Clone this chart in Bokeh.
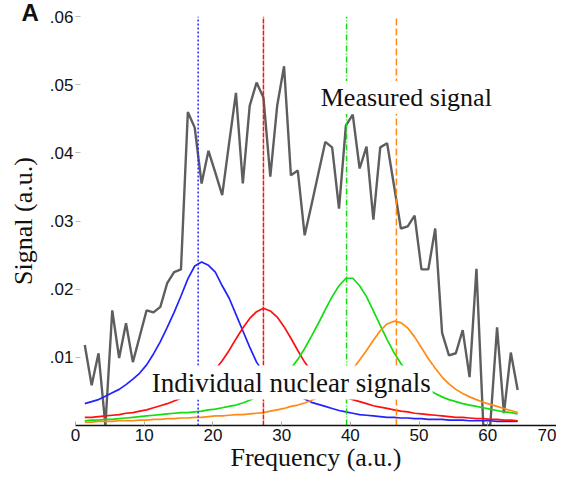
from bokeh.plotting import figure
from bokeh.models import FixedTicker, Label, Range1d
from bokeh.embed import file_html
from bokeh.resources import INLINE

# frequency sampling grid (a.u.)
freq = [round(1.35 + i, 2) for i in range(64)]

measured = [0.0118, 0.0059, 0.0106, 0.0000, 0.0169, 0.0099, 0.0150, 0.0093,
            0.0131, 0.0169, 0.0166, 0.0174, 0.0209, 0.0225, 0.0229, 0.0460,
            0.0437, 0.0355, 0.0403, 0.0371, 0.0338, 0.0414, 0.0488, 0.0355,
            0.0469, 0.0503, 0.0481, 0.0365, 0.0469, 0.0527, 0.0367, 0.0374,
            0.0279, 0.0324, 0.0370, 0.0416, 0.0408, 0.0318, 0.0440, 0.0456,
            0.0377, 0.0409, 0.0302, 0.0408, 0.0414, 0.0352, 0.0289, 0.0292,
            0.0308, 0.0229, 0.0229, 0.0289, 0.0136, 0.0103, 0.0106, 0.0140,
            0.0071, 0.0230, 0.0000, 0.0000, 0.0144, 0.0018, 0.0107, 0.0052]

blue_signal = [0.0032, 0.0035, 0.0038, 0.0043, 0.0048, 0.0053, 0.0060, 0.0068,
               0.0077, 0.0089, 0.0105, 0.0123, 0.0144, 0.0166, 0.0190, 0.0215,
               0.0234, 0.0240, 0.0235, 0.0225, 0.0205, 0.0187, 0.0163, 0.0139,
               0.0115, 0.0093, 0.0078, 0.0066, 0.0058, 0.0052, 0.0048, 0.0044,
               0.0039, 0.0034, 0.0031, 0.0028, 0.0025, 0.0022, 0.0020, 0.0018,
               0.0016, 0.0015, 0.0014, 0.0013, 0.0012, 0.0012, 0.0011, 0.0011,
               0.0010, 0.0010, 0.0009, 0.0009, 0.0009, 0.0008, 0.0008, 0.0008,
               0.0007, 0.0007, 0.0007, 0.0007, 0.0006, 0.0006, 0.0006, 0.0006]

red_signal = [0.0012, 0.0012, 0.0013, 0.0014, 0.0015, 0.0016, 0.0018, 0.0019,
              0.0021, 0.0023, 0.0026, 0.0029, 0.0032, 0.0036, 0.0040, 0.0045,
              0.0052, 0.0060, 0.0070, 0.0082, 0.0095, 0.0110, 0.0127, 0.0143,
              0.0157, 0.0167, 0.0172, 0.0168, 0.0159, 0.0145, 0.0128, 0.0110,
              0.0093, 0.0079, 0.0067, 0.0058, 0.0051, 0.0045, 0.0041, 0.0038,
              0.0035, 0.0032, 0.0029, 0.0027, 0.0025, 0.0023, 0.0021, 0.0020,
              0.0018, 0.0017, 0.0016, 0.0015, 0.0014, 0.0013, 0.0012, 0.0012,
              0.0011, 0.0010, 0.0010, 0.0009, 0.0009, 0.0008, 0.0008, 0.0007]

green_signal = [0.0007, 0.0008, 0.0008, 0.0009, 0.0009, 0.0010, 0.0011, 0.0012,
                0.0013, 0.0014, 0.0015, 0.0016, 0.0017, 0.0018, 0.0019, 0.0019,
                0.0020, 0.0021, 0.0023, 0.0024, 0.0026, 0.0028, 0.0030, 0.0033,
                0.0037, 0.0042, 0.0048, 0.0055, 0.0063, 0.0073, 0.0084, 0.0097,
                0.0113, 0.0131, 0.0150, 0.0170, 0.0189, 0.0205, 0.0216, 0.0216,
                0.0205, 0.0189, 0.0168, 0.0147, 0.0126, 0.0107, 0.0091, 0.0078,
                0.0068, 0.0060, 0.0053, 0.0047, 0.0042, 0.0038, 0.0035, 0.0032,
                0.0030, 0.0028, 0.0026, 0.0024, 0.0022, 0.0020, 0.0019, 0.0017]

orange_signal = [0.0005, 0.0005, 0.0006, 0.0006, 0.0006, 0.0007, 0.0007, 0.0007,
                 0.0008, 0.0008, 0.0009, 0.0009, 0.0010, 0.0010, 0.0011, 0.0011,
                 0.0012, 0.0012, 0.0013, 0.0014, 0.0014, 0.0015, 0.0016, 0.0016,
                 0.0017, 0.0018, 0.0019, 0.0021, 0.0023, 0.0025, 0.0028, 0.0030,
                 0.0033, 0.0037, 0.0041, 0.0046, 0.0053, 0.0061, 0.0071, 0.0083,
                 0.0096, 0.0110, 0.0125, 0.0139, 0.0149, 0.0153, 0.0151, 0.0143,
                 0.0130, 0.0114, 0.0098, 0.0084, 0.0071, 0.0061, 0.0053, 0.0047,
                 0.0042, 0.0038, 0.0034, 0.0031, 0.0028, 0.0025, 0.0022, 0.0019]

peak_centers = [17.85, 27.35, 39.45, 46.7]
peak_colors = ["#2222ff", "#ff1010", "#11dd11", "#ff8a14"]
peak_dashes = ["2 2", "5 1", "6 2 1 2", "7 3"]

x_ticks = [0, 10, 20, 30, 40, 50, 60, 70]
y_ticks = [0.01, 0.02, 0.03, 0.04, 0.05, 0.06]
y_tick_labels = [".01", ".02", ".03", ".04", ".05", ".06"]

p = figure(width=556, height=474, x_range=Range1d(0, 70), y_range=Range1d(0, 0.06),
           output_backend="svg", toolbar_location=None,
           min_border_left=75, min_border_right=0, min_border_top=16, min_border_bottom=0)
p.outline_line_color = None
p.xgrid.grid_line_color = None
p.ygrid.grid_line_color = None
p.background_fill_color = "white"
p.border_fill_color = "white"

# panel letter as the title
p.title.text = "A"
p.title.align = "left"
p.title.vertical_align = "bottom"
p.title.offset = -54
p.title.standoff = -19
p.title.text_font = "Liberation Sans"
p.title.text_font_style = "bold"
p.title.text_font_size = "24px"
p.title.text_color = "#111111"

# measured signal
p.line(freq, measured, line_color="#5e5e5e", line_width=2.4)

# individual nuclear signals
for sig, col in zip([blue_signal, red_signal, green_signal, orange_signal], peak_colors):
    p.line(freq, sig, line_color=col, line_width=1.7)

# peak position markers
for c, col, dash in zip(peak_centers, peak_colors, peak_dashes):
    p.segment(x0=[c], y0=[0], x1=[c], y1=[0.06], line_color=col, line_width=1.5, line_dash=dash)

# axes
xa = p.xaxis[0]
xa.ticker = FixedTicker(ticks=x_ticks)
xa.axis_label = "Frequency (a.u.)"
xa.axis_label_text_font = "Liberation Serif"
xa.axis_label_text_font_size = "26px"
xa.axis_label_text_font_style = "normal"
xa.axis_label_text_color = "#111111"
xa.axis_label_standoff = -1
xa.major_label_standoff = 3
xa.major_label_text_font = "Liberation Sans"
xa.major_label_text_font_size = "17px"
xa.major_label_text_color = "#111111"
xa.major_tick_in = 4
xa.major_tick_out = 0
xa.major_tick_line_color = "#aaaaaa"
xa.minor_tick_line_color = None
xa.axis_line_color = "#111111"
xa.axis_line_width = 1.6

ya = p.yaxis[0]
ya.ticker = FixedTicker(ticks=y_ticks)
ya.major_label_overrides = {t: s for t, s in zip(y_ticks, y_tick_labels)}
ya.axis_label = "Signal (a.u.)"
ya.axis_label_text_font = "Liberation Serif"
ya.axis_label_text_font_size = "26px"
ya.axis_label_text_font_style = "normal"
ya.axis_label_text_color = "#111111"
ya.axis_label_standoff = 9
ya.major_label_standoff = 2
ya.major_label_text_font = "Liberation Sans"
ya.major_label_text_font_size = "17px"
ya.major_label_text_color = "#111111"
ya.major_tick_in = 5
ya.major_tick_out = 0
ya.major_tick_line_color = "#bbbbbb"
ya.minor_tick_line_color = None
ya.axis_line_color = None

# text annotations
p.add_layout(Label(x=35.4, y=0.0481, text="Measured signal", text_baseline="middle",
                   text_font="Liberation Serif", text_font_size="26px", text_color="#111111",
                   background_fill_color="white", padding=2))
p.add_layout(Label(x=10.8, y=0.0063, text="Individual nuclear signals", text_baseline="middle",
                   text_font="Liberation Serif", text_font_size="27px", text_color="#111111",
                   background_fill_color="white", padding=2))

open("out.html", "w").write(file_html(p, INLINE))
